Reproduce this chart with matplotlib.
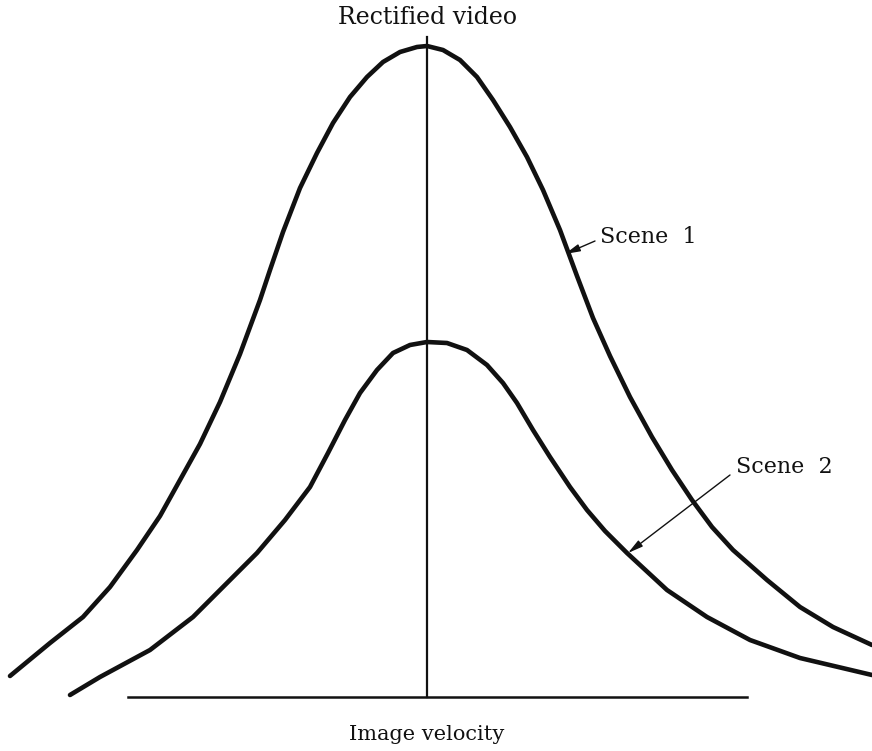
import numpy as np
import matplotlib.pyplot as plt

# curves: velocity (px from centre), amplitude (px above baseline)
scene1_x = [-417, -377, -344, -317, -290, -267, -247, -227, -207, -187, -167, -157, -144,
            -127, -110, -94, -77, -60, -44, -27, -10, 0, 16, 33, 50, 66, 83, 100, 116,
            133, 150, 166, 183, 203, 225, 245, 265, 285, 306, 340, 373, 406, 445]
scene1_y = [21, 54, 80, 110, 147, 181, 217, 253, 295, 343, 397, 427, 465,
            509, 544, 574, 600, 620, 635, 645, 650, 651, 647, 637, 620, 597, 570, 540, 507,
            467, 421, 379, 341, 300, 260, 227, 197, 170, 147, 117, 90, 70, 52]

scene2_x = [-357, -327, -277, -234, -197, -170, -142, -117, -99, -82, -67, -50, -34, -17, 0,
            20, 40, 60, 76, 90, 106, 123, 143, 160, 178, 200, 240, 280, 323, 373, 445]
scene2_y = [2, 20, 47, 80, 117, 144, 177, 210, 244, 277, 304, 327, 344, 352, 355,
            354, 347, 332, 314, 294, 267, 240, 210, 187, 166, 144, 107, 80, 57, 39, 22]

baseline_x = [-299, 320]
axis_top = 660

fig = plt.figure(figsize=(8.72, 7.51), dpi=100)
ax = fig.add_axes([0, 0, 1, 1])
ax.set_xlim(-427, 445)
ax.set_ylim(-54, 697)
ax.axis("off")

curve_kw = dict(color="#111111", lw=3.3, solid_capstyle="round", solid_joinstyle="round")
ax.plot(scene1_x, scene1_y, **curve_kw)
ax.plot(scene2_x, scene2_y, **curve_kw)
ax.plot(baseline_x, [0, 0], color="#111111", lw=1.8)
ax.plot([0, 0], [0, axis_top], color="#111111", lw=1.6)

font = dict(family="DejaVu Serif", color="#111111")
ax.text(0, 679, "Rectified video", ha="center", va="center", fontsize=17, **font)
ax.text(0, -38, "Image velocity", ha="center", va="center", fontsize=15, **font)

ax.text(173, 460, "Scene  1", ha="left", va="center", fontsize=16, **font)
ax.text(309, 230, "Scene  2", ha="left", va="center", fontsize=16, **font)

arrow = dict(arrowstyle="-|>,head_length=0.9,head_width=0.22", color="#111111",
             lw=1.0, shrinkA=0, shrinkB=0)
ax.annotate("", xy=(138, 443), xytext=(168, 456), arrowprops=arrow)
ax.annotate("", xy=(201, 144), xytext=(303, 222), arrowprops=arrow)

fig.savefig("out.png", dpi=100, facecolor="white")
